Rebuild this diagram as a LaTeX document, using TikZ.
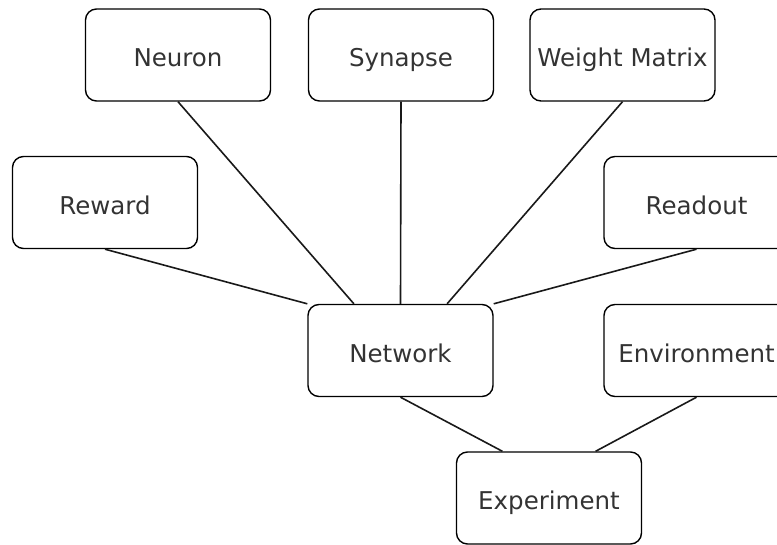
\documentclass[tikz,border=0pt]{standalone}
\usepackage{fontspec}
\setmainfont{DejaVu Sans}
\usetikzlibrary{calc}
\definecolor{txt}{HTML}{333333}
\tikzset{
  box/.style={draw=black, line width=1.4pt, rounded corners=11pt, minimum width=185pt, minimum height=92pt,
    inner sep=0pt, text=txt, font=\fontsize{24.5}{30}\selectfont,
    text height=23.5pt, text depth=0pt},
  link/.style={draw=black!90, line width=1.6pt}
}
\begin{document}
\begin{tikzpicture}[x=1pt,y=-1pt]
\useasboundingbox (0,0) rectangle (777,544);
\node[box] (neuron) at (178,55) {Neuron};
\node[box] (synapse) at (401,55) {Synapse};
\node[box] (weight) at (622.5,55) {Weight Matrix};
\node[box] (reward) at (105,202.5) {Reward};
\node[box] (readout) at (696.5,202.5) {Readout};
\node[box] (network) at (400.5,350.5) {Network};
\node[box] (env) at (696.5,350.5) {Environment};
\node[box] (exp) at (549,498) {Experiment};
\draw[link] (reward.south) -- (network.north west);
\draw[link] (neuron.south) -- ($(network.north west)!0.25!(network.north east)$);
\draw[link] (synapse.south) -- (network.north);
\draw[link] (weight.south) -- ($(network.north west)!0.75!(network.north east)$);
\draw[link] (readout.south) -- (network.north east);
\draw[link] (network.south) -- ($(exp.north west)!0.25!(exp.north east)$);
\draw[link] (env.south) -- ($(exp.north west)!0.75!(exp.north east)$);
\end{tikzpicture}
\end{document}
